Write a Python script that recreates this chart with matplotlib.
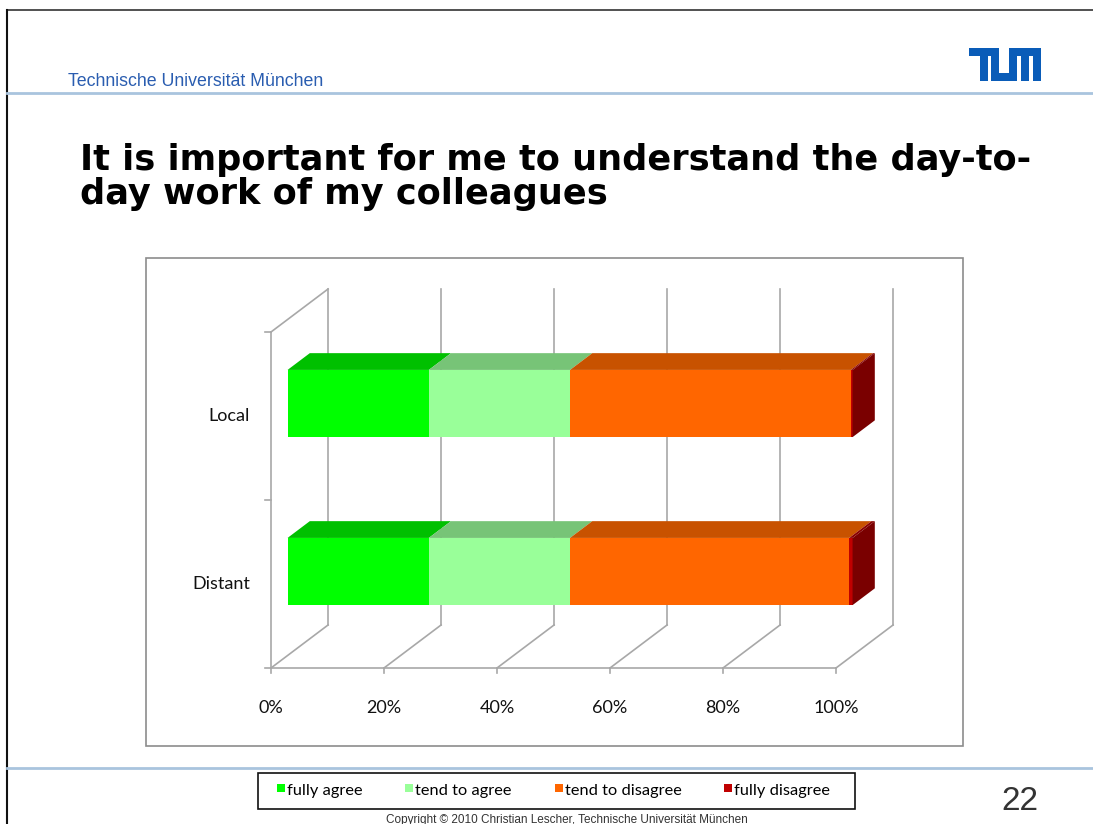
import matplotlib
matplotlib.use("Agg")
import matplotlib.pyplot as plt
from matplotlib.patches import Rectangle
from matplotlib.lines import Line2D

# survey answers in percent
categories = ["Distant", "Local"]
fully_agree = [25, 25]
tend_to_agree = [25, 25]
tend_to_disagree = [49.4, 49.7]
fully_disagree = [0.6, 0.3]
series_names = ["fully agree", "tend to agree", "tend to disagree", "fully disagree"]
x_ticks = [0, 20, 40, 60, 80, 100]
x_tick_labels = ["0%", "20%", "40%", "60%", "80%", "100%"]

front_colors = ["#00ff00", "#99ff99", "#ff6600", "#c00000"]
top_colors = ["#00c000", "#77c477", "#c85200", "#8a0000"]
side_colors = ["#009000", "#5fa05f", "#a04000", "#7a0000"]

W, H = 1093, 824
fig = plt.figure(figsize=(W / 100, H / 100), dpi=100)


def fx(x):
    return x / W


def fy(y):
    return 1 - y / H


def fline(x0, y0, x1, y1, **kw):
    fig.add_artist(Line2D([fx(x0), fx(x1)], [fy(y0), fy(y1)], transform=fig.transFigure, **kw))


def frect(x0, y0, x1, y1, **kw):
    fig.add_artist(Rectangle((fx(x0), fy(y1)), fx(x1) - fx(x0), fy(y0) - fy(y1),
                             transform=fig.transFigure, **kw))


# slide frame
fline(7, 10, W, 10, color="#333333", lw=1.2)
fline(7, 10, 7, H, color="#111111", lw=1.5)
fline(7, 93, W, 93, color="#a9c4de", lw=2)
fline(7, 768, W, 768, color="#a9c4de", lw=2)

fig.text(fx(68), fy(82), "Technische Universität München", color="#2a5db0",
         fontsize=12.8, family="Liberation Sans", va="center", ha="left")

# TUM logo
blue = "#0a5cb8"
lx, ly, s = 969, 48, 8
for (a, b, c, d) in [(0, 0, 30, s), (11, 0, 19, 33), (22, 0, 30, 33), (22, 25, 48, 33),
                     (40, 0, 48, 33), (40, 0, 72, s), (52, 0, 60, 33), (64, 0, 72, 33)]:
    frect(lx + a, ly + b, lx + c, ly + d, color=blue, lw=0)

fig.text(fx(80), fy(177), "It is important for me to understand the day-to-\nday work of my colleagues",
         fontsize=25.3, fontweight="heavy", family="DejaVu Sans", va="center", ha="left",
         linespacing=0.98)

# chart box
frect(146, 258, 963, 746, fill=False, edgecolor="#8c8c8c", lw=1.2)

# plotting axes: front plane of the 3d box
ax = fig.add_axes([fx(271), fy(668), fx(836) - fx(271), fy(332) - fy(668)])
ax.set_xlim(0, 100)
ax.set_ylim(-0.5, 1.5)
ax.axis("off")

DX, DY = 10.1, 0.256   # depth offset in data units
grid = dict(color="#a8a8a8", lw=1.2, clip_on=False, zorder=1)

# back wall and floor
for x in x_ticks:
    ax.plot([x + DX, x + DX], [-0.5 + DY, 1.5 + DY], **grid)
    ax.plot([x, x + DX], [-0.5, -0.5 + DY], **grid)
    ax.plot([x, x], [-0.5, -0.53], **grid)
ax.plot([0, 0], [-0.5, 1.5], **grid)
ax.plot([0, DX], [1.5, 1.5 + DY], **grid)
ax.plot([0, 100], [-0.5, -0.5], **grid)
for y in [-0.5, 0.5, 1.5]:
    ax.plot([-1, 0], [y, y], **grid)

# 3d bars
f0, f1, h = 0.29, 0.68, 0.2
series = [fully_agree, tend_to_agree, tend_to_disagree, fully_disagree]
for c in range(len(categories)):
    left = 0
    vals = [s_[c] for s_ in series]
    last = max(k for k, v in enumerate(vals) if v > 0)
    for k, v in enumerate(vals):
        if v <= 0:
            continue
        a, b = left, left + v
        ax.fill([a + f0 * DX, b + f0 * DX, b + f0 * DX, a + f0 * DX],
                [c - h + f0 * DY, c - h + f0 * DY, c + h + f0 * DY, c + h + f0 * DY],
                color=front_colors[k], lw=0, zorder=3, clip_on=False)
        ax.fill([a + f0 * DX, b + f0 * DX, b + f1 * DX, a + f1 * DX],
                [c + h + f0 * DY, c + h + f0 * DY, c + h + f1 * DY, c + h + f1 * DY],
                color=top_colors[k], lw=0, zorder=3, clip_on=False)
        if k == last:
            ax.fill([b + f0 * DX, b + f1 * DX, b + f1 * DX, b + f0 * DX],
                    [c - h + f0 * DY, c - h + f1 * DY, c + h + f1 * DY, c + h + f0 * DY],
                    color=side_colors[k], lw=0, zorder=3, clip_on=False)
        left = b

lab = dict(fontsize=13, family="Lato", color="#111111")
for x, t in zip(x_ticks, x_tick_labels):
    ax.text(x, -0.74, t, ha="center", va="center", **lab)
for c, name in enumerate(categories):
    ax.text(-3.7, c, name, ha="right", va="center", **lab)

# legend
frect(258, 773, 855, 809, fill=False, edgecolor="#111111", lw=1.2)
for name, col, mx in zip(series_names, front_colors, [277, 405, 555, 724]):
    frect(mx, 784, mx + 8, 792, color=col, lw=0)
    fig.text(fx(mx + 10), fy(791), name, fontsize=11.8, family="Lato", va="center", ha="left")

fig.text(fx(1020), fy(801), "22", fontsize=24, family="Liberation Sans", color="#333333",
         ha="center", va="center")
fig.text(fx(567), fy(820), "Copyright © 2010 Christian Lescher, Technische Universität München",
         fontsize=8.5, family="Liberation Sans", color="#333333", ha="center", va="center")

fig.savefig("out.png", dpi=100)
